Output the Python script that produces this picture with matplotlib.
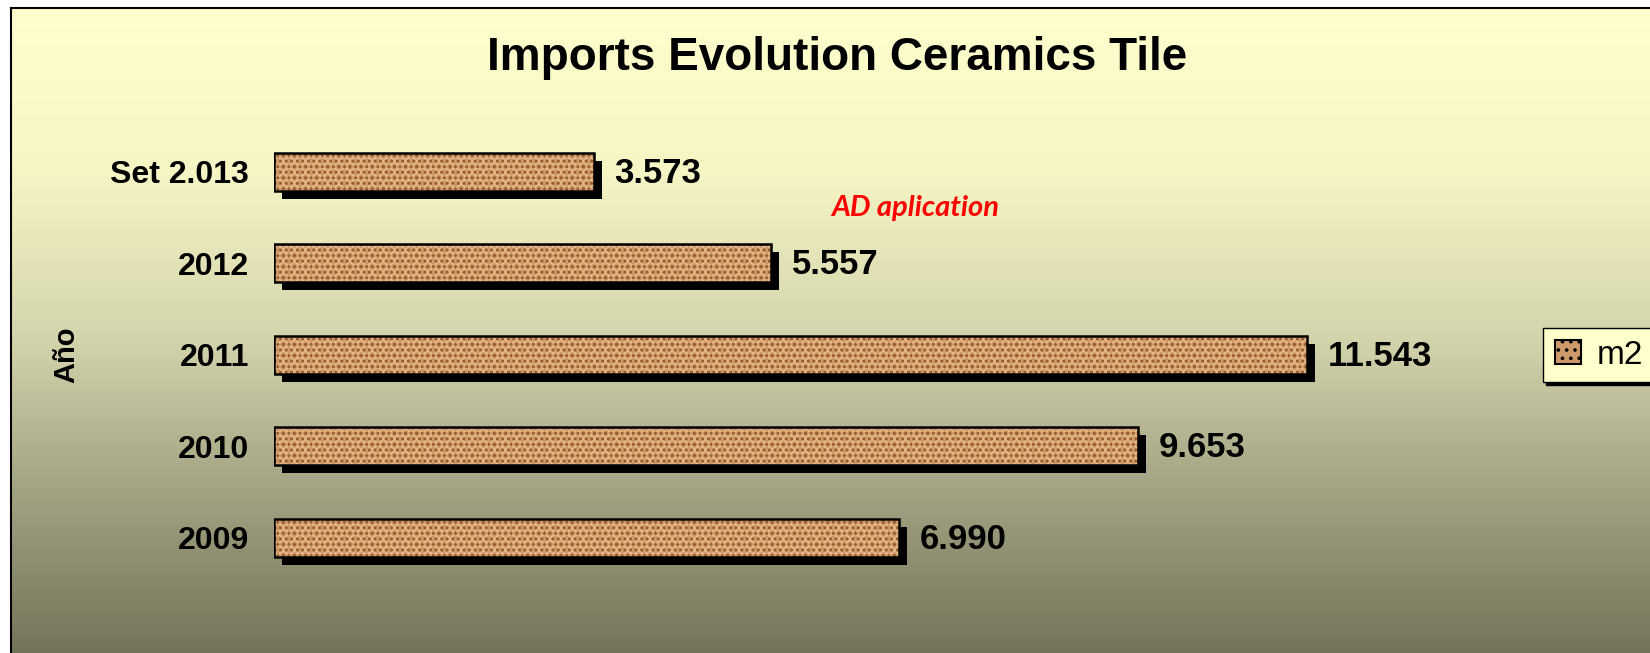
import matplotlib
matplotlib.use('Agg')
import matplotlib.pyplot as plt
import numpy as np
from matplotlib.patches import Patch
from matplotlib.colors import LinearSegmentedColormap
from matplotlib.transforms import ScaledTranslation

plt.rcParams['font.family'] = ['Liberation Sans', 'DejaVu Sans']
plt.rcParams['hatch.linewidth'] = 1.4

# datos (m2 importados)
years = ['2009', '2010', '2011', '2012', 'Set 2.013']
m2 = [6990, 9653, 11543, 5557, 3573]

title = 'Imports Evolution Ceramics Tile'
note = 'AD aplication'
serie = 'm2'

W, H = 1650, 653
fig = plt.figure(figsize=(W / 100, H / 100), dpi=100)
fig.patch.set_facecolor('white')

# fondo degradado
bg = fig.add_axes([11 / W, 0, 1 - 11 / W, 1 - 8 / H])
cmap = LinearSegmentedColormap.from_list('fondo', [
    (0.0, '#FFFFCE'), (0.25, '#F6F5C4'), (0.5, '#D6D6AE'),
    (0.75, '#A3A283'), (1.0, '#75735A')])
grad = np.linspace(0, 1, 256).reshape(-1, 1)
bg.imshow(grad, aspect='auto', cmap=cmap, extent=[0, 1, 1, 0])
bg.set_xlim(0, 1)
bg.set_ylim(1, 0)
bg.set_xticks([])
bg.set_yticks([])
for s in ['right', 'bottom']:
    bg.spines[s].set_visible(False)
for s in ['left', 'top']:
    bg.spines[s].set_linewidth(1.5)
bg.set_zorder(0)

# grafico de barras
ax = fig.add_axes([274 / W, 69.5 / H, 1163 / W, 457.5 / H])
ax.set_zorder(1)
ax.patch.set_alpha(0)
pos = np.arange(len(years))
hgt = 0.42

shadow = ax.barh(pos, m2, height=hgt, color='black', zorder=1)
off = ax.transData + ScaledTranslation(8 / 100, -8 / 100, fig.dpi_scale_trans)
for r in shadow:
    r.set_transform(off)

# textura granito: fondo + dos capas de trama
ax.barh(pos, m2, height=hgt, facecolor='#CF9A69', edgecolor='#E8BA8A',
        hatch='xxx', linewidth=0, zorder=2)
ax.barh(pos, m2, height=hgt, fill=False, edgecolor='#93592C',
        hatch='...', linewidth=0, zorder=2.5)
ax.barh(pos, m2, height=hgt, fill=False, edgecolor='black', linewidth=1.8, zorder=3)

for i, v in enumerate(m2):
    ax.annotate(f'{v:,}'.replace(',', '.'), (v, i), xytext=(15, -1),
                textcoords='offset points', va='center', ha='left',
                fontsize=25, fontweight='bold')

ax.set_xlim(0, 13000)
ax.set_ylim(-0.5, len(years) - 0.5)
ax.set_xticks([])
ax.set_yticks(pos)
ax.set_yticklabels(years, fontsize=23, fontweight='bold')
ax.tick_params(axis='y', length=0, pad=18)
for s in ax.spines.values():
    s.set_visible(False)

fig.text(837 / W, 1 - 58 / H, title, ha='center', va='center',
         fontsize=33, fontweight='bold')
fig.text(66 / W, 1 - 355 / H, 'Año', rotation=90, ha='center', va='center',
         fontsize=21, fontweight='bold')
fig.text(915 / W, 1 - 208 / H, note, ha='center', va='center', color='#FF0000',
         fontsize=21, fontweight='bold', fontstyle='italic', family=['Lato', 'DejaVu Sans'])

leg = fig.legend(handles=[Patch(facecolor='#CF9A69', edgecolor='black', hatch='..',
                                linewidth=1.5, label=serie)],
                 loc='upper left', bbox_to_anchor=(1543 / W, 1 - 328 / H),
                 frameon=True, fancybox=False, facecolor='#FFFFCC', edgecolor='black',
                 framealpha=1, borderaxespad=0, borderpad=0.35, fontsize=24,
                 handlelength=0.8, handleheight=0.7, handletextpad=0.45,
                 shadow={'color': 'black', 'alpha': 1})
leg.get_frame().set_linewidth(1)

fig.savefig('out.png', dpi=100)
